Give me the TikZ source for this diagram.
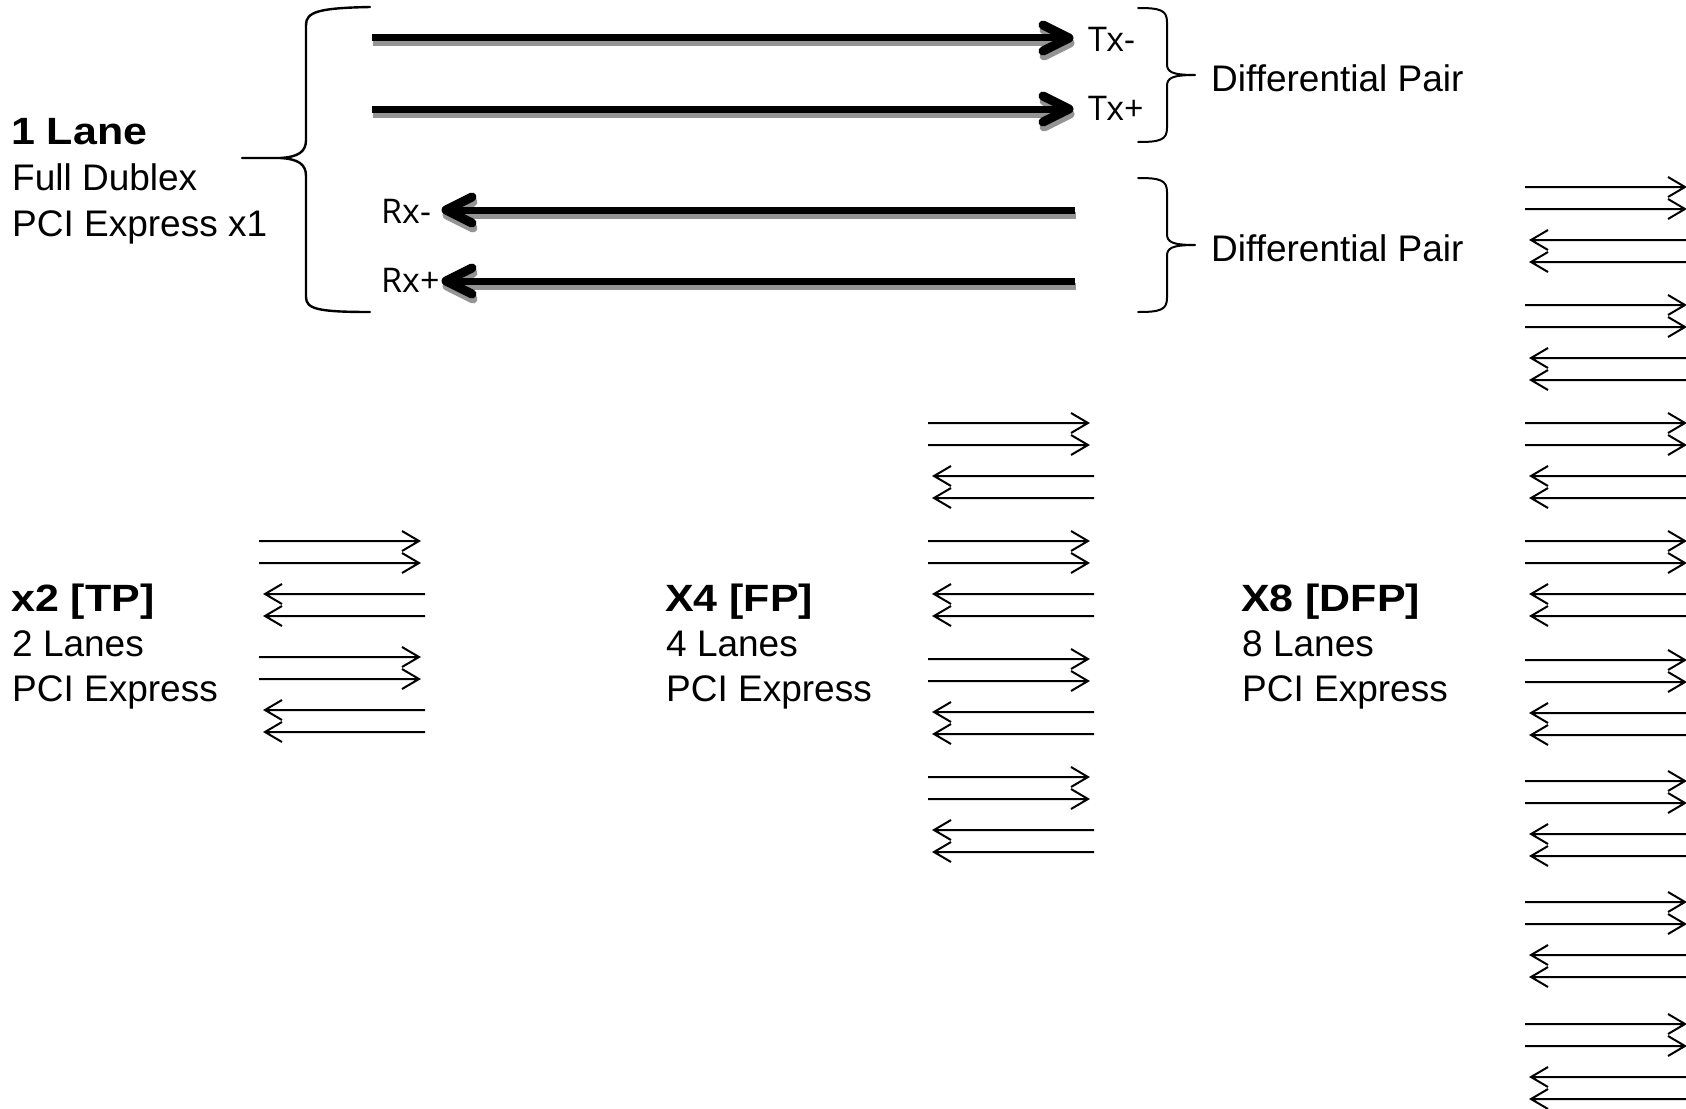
\documentclass[tikz,border=0pt]{standalone}
\usepackage{fontspec}
\setmainfont{Liberation Sans}
\newfontfamily\headfont[FakeStretch=1.13]{Liberation Sans}
\newfontfamily\pinfont{Open Sans}
\begin{document}
\begin{tikzpicture}[x=1pt,y=-1pt,
  txt/.style={inner sep=0pt, anchor=base west, font=\fontsize{37}{44}\selectfont},
  head/.style={inner sep=0pt, anchor=base west, font=\headfont\bfseries\fontsize{38}{44}\selectfont},
  pin/.style={inner sep=0pt, anchor=base west, font=\pinfont\fontsize{34}{40}\selectfont},
  brace/.style={line width=2pt, line cap=round, line join=round},
  bigshaft/.style={line width=7pt},
  bighead/.style={line width=9pt, line cap=round, line join=round},
  dropshadow/.style={draw=black!42},
  lane/.style={line width=2pt, line join=miter},
  lanepair/.pic={
    \foreach \d in {0,22}
      \draw[lane] (0,\d) -- (160,\d) ++(-17,-10) -- ++(17,10) -- ++(-17,10);
    \foreach \d in {53,75}
      \draw[lane] (23,\d-10) -- (6,\d) -- (23,\d+10) (6,\d) -- (166,\d);
  },
]
\useasboundingbox[fill=white] (0,0) rectangle (1686,1108);

% ---- transmit pair (pointing right) ----
\coordinate (txa-s) at (372,38);  \coordinate (txa-e) at (1073,38);
\coordinate (txb-s) at (372,109); \coordinate (txb-e) at (1073,109);
% ---- receive pair (pointing left) ----
\coordinate (rxa-s) at (1075,210); \coordinate (rxa-e) at (442,210);
\coordinate (rxb-s) at (1075,281); \coordinate (rxb-e) at (442,281);

% drop shadows, offset down and slightly right
\begin{scope}[transform canvas={shift={(1,5)}}]
  \foreach \p in {txa,txb}{
    \draw[dropshadow,bigshaft] (\p-s) -- ++(695,0);
    \draw[dropshadow,bighead] (\p-e) ++(-30,-13) -- ++(26,13) -- ++(-26,13);
  }
  \foreach \p in {rxa,rxb}{
    \draw[dropshadow,bigshaft] (\p-s) -- ++(-627,0);
    \draw[dropshadow,bighead] (\p-e) ++(30,-13) -- ++(-26,13) -- ++(26,13);
  }
\end{scope}
% thick arrows
\foreach \p in {txa,txb}{
  \draw[bigshaft] (\p-s) -- ++(695,0);
  \draw[bighead] (\p-e) ++(-30,-13) -- ++(26,13) -- ++(-26,13);
}
\foreach \p in {rxa,rxb}{
  \draw[bigshaft] (\p-s) -- ++(-627,0);
  \draw[bighead] (\p-e) ++(30,-13) -- ++(-26,13) -- ++(26,13);
}

\node[pin] (txm) at (1088,52) {Tx-};
\node[pin] (txp) at (1088,120) {Tx+};
\node[pin] (rxm) at (381,223) {Rx-};
\node[pin] (rxp) at (381,292) {Rx+};

% braces
\draw[brace, line width=2.4pt] (370,7) .. controls (318,8) and (306,12) .. (306,25)
  -- (306,140) .. controls (306,152) and (298,157) .. (280,158) -- (242,158)
  -- (280,158) .. controls (298,159) and (306,164) .. (306,176)
  -- (306,297) .. controls (306,309) and (318,312) .. (370,312);
\foreach \dy in {0,170}{
  \begin{scope}[shift={(0,\dy)}]
    \draw[brace] (1138,8) .. controls (1160,8) and (1167,10) .. (1167,22)
      -- (1167,64) .. controls (1167,72) and (1172,75) .. (1195,75)
      .. controls (1172,75) and (1167,78) .. (1167,86)
      -- (1167,128) .. controls (1167,140) and (1160,142) .. (1138,142);
  \end{scope}
}
\node[txt] (dp1) at (1211,92) {Differential Pair};
\node[txt] (dp2) at (1211,261) {Differential Pair};

% labels
\node[head] (l1a) at (11,144) {1 Lane};
\node[txt]  (l1b) at (12,190) {Full Dublex};
\node[txt]  (l1c) at (12,236) {PCI Express x1};

\node[head] (l2a) at (11,611) {x2 [TP]};
\node[txt]  (l2b) at (12,656) {2 Lanes};
\node[txt]  (l2c) at (12,701) {PCI Express};

\node[head] (l4a) at (665,611) {X4 [FP]};
\node[txt]  (l4b) at (666,656) {4 Lanes};
\node[txt]  (l4c) at (666,701) {PCI Express};

\node[head] (l8a) at (1241,611) {X8 [DFP]};
\node[txt]  (l8b) at (1242,656) {8 Lanes};
\node[txt]  (l8c) at (1242,701) {PCI Express};

% lane bundles
\foreach \y in {541,657} \pic at (259,\y) {lanepair};
\foreach \y in {423,541,659,777} \pic at (928,\y) {lanepair};
\foreach \y in {187,305,423,541,660,781,902,1024} \pic at (1525,\y) {lanepair};
\end{tikzpicture}
\end{document}
